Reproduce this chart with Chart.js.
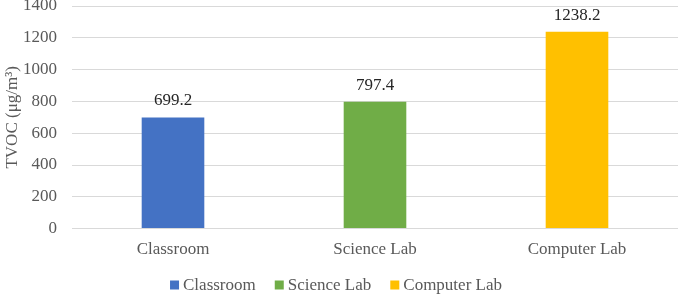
<!DOCTYPE html>
<html>
<head>
<meta charset="utf-8">
<script src="https://cdn.jsdelivr.net/npm/chart.js@4"></script>
<style>
  html, body { margin: 0; padding: 0; background: #fff; }
  #wrap { width: 678px; height: 295px; }
</style>
</head>
<body>
<div id="wrap"><canvas id="tvocChart"></canvas></div>
<script>
// data
const rooms = ['Classroom', 'Science Lab', 'Computer Lab'];
const tvoc = [699.2, 797.4, 1238.2];
const barColors = ['#4472C4', '#70AD47', '#FFC000'];
const yTicks = [0, 200, 400, 600, 800, 1000, 1200, 1400];

const serif = '"Liberation Serif", "Times New Roman", serif';
const font17 = '17px ' + serif;

// value labels above each bar
const valueLabels = {
    id: 'valueLabels',
    afterDatasetsDraw(chart) {
        const ctx = chart.ctx;
        ctx.save();
        ctx.font = font17;
        ctx.fillStyle = '#262626';
        ctx.textAlign = 'center';
        ctx.textBaseline = 'alphabetic';
        chart.getDatasetMeta(0).data.forEach((bar, i) => {
            ctx.fillText(tvoc[i].toFixed(1), bar.x, bar.y - 12);
        });
        ctx.restore();
    }
};

// small legend along the bottom, Excel style (tight box-to-text gap)
const bottomLegend = {
    id: 'bottomLegend',
    afterDraw(chart) {
        const ctx = chart.ctx;
        const box = 9, gapText = 4, gapItem = 19;
        ctx.save();
        ctx.font = font17;
        const widths = rooms.map(r => box + gapText + ctx.measureText(r).width);
        const total = widths.reduce((a, b) => a + b, 0) + gapItem * (rooms.length - 1);
        let x = chart.width / 2 - total / 2 - 3;
        const y = 285;
        ctx.textBaseline = 'middle';
        ctx.textAlign = 'left';
        rooms.forEach((r, i) => {
            ctx.fillStyle = barColors[i];
            ctx.fillRect(x, y - box / 2, box, box);
            ctx.fillStyle = '#595959';
            ctx.fillText(r, x + box + gapText, y + 1);
            x += widths[i] + gapItem;
        });
        ctx.restore();
    }
};

const ctx = document.getElementById('tvocChart').getContext('2d');
new Chart(ctx, {
    type: 'bar',
    data: {
        labels: rooms,
        datasets: [{
            data: tvoc,
            backgroundColor: barColors,
            barPercentage: 0.31,
            categoryPercentage: 1,
        }],
    },
    options: {
        responsive: true,
        maintainAspectRatio: false,
        animation: false,
        layout: { padding: { top: 6, right: 0, left: 0, bottom: 32 } },
        plugins: {
            tooltip: { enabled: false },
            legend: { display: false },
        },
        scales: {
            x: {
                grid: { display: false },
                border: { display: false },
                ticks: { font: { family: serif, size: 17 }, color: '#595959', padding: 3 },
            },
            y: {
                min: 0,
                max: 1400,
                afterBuildTicks: axis => { axis.ticks = yTicks.map(v => ({ value: v })); },
                afterFit: axis => {
                    axis.width = 72;
                    axis.paddingTop = 0;
                    axis.paddingBottom = 0;
                },
                grid: { color: '#d9d9d9', lineWidth: 1, drawTicks: false },
                border: { display: false },
                ticks: {
                    font: { family: serif, size: 17 },
                    color: '#595959',
                    padding: 15,
                    callback: v => String(v),
                },
                title: {
                    display: true,
                    text: 'TVOC (μg/m³)',
                    font: { family: serif, size: 17 },
                    color: '#595959',
                    padding: 2,
                },
            },
        },
    },
    plugins: [valueLabels, bottomLegend],
});
</script>
</body>
</html>
